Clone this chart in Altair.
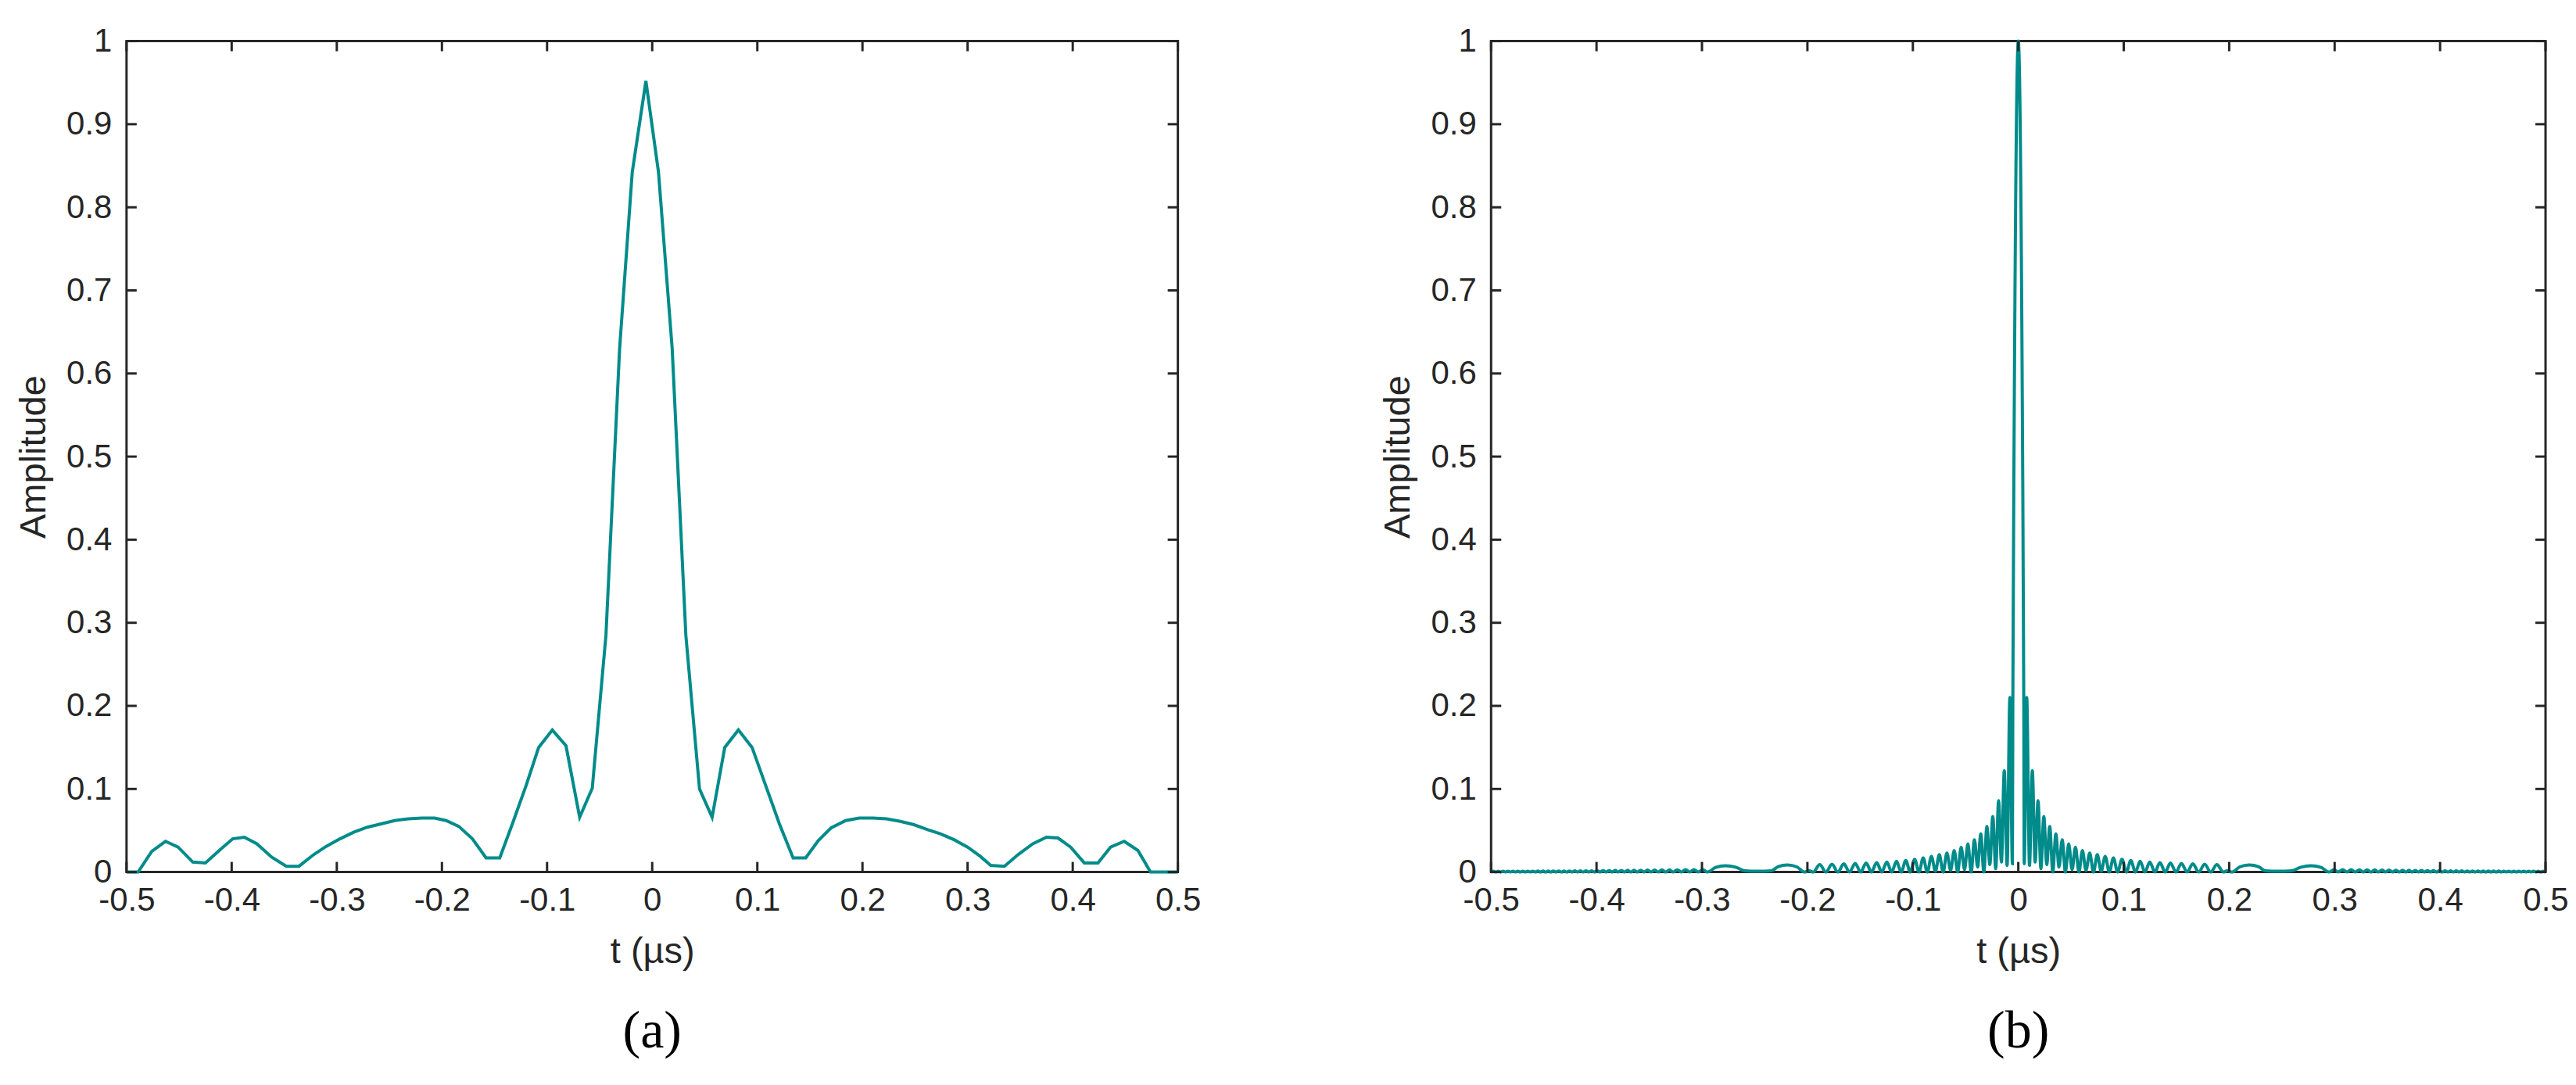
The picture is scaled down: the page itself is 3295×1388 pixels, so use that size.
import altair as alt
import pandas as pd

# ---------------- data ----------------
PANEL_LABELS = ["(a)", "(b)"]
X_TITLE = "t (µs)"
Y_TITLE = "Amplitude"
X_TICKS = [-0.5, -0.4, -0.3, -0.2, -0.1, 0.0, 0.1, 0.2, 0.3, 0.4, 0.5]
Y_TICKS = [0.0, 0.1, 0.2, 0.3, 0.4, 0.5, 0.6, 0.7, 0.8, 0.9, 1.0]

# panel (a)
A_T = [-0.500, -0.489, -0.476, -0.463, -0.451, -0.437, -0.425, -0.411, -0.399, -0.388,
       -0.376, -0.362, -0.348, -0.336, -0.322, -0.310, -0.297, -0.284, -0.271, -0.258,
       -0.245, -0.232, -0.219, -0.207, -0.196, -0.184, -0.171, -0.158, -0.145, -0.133,
       -0.120, -0.108, -0.095, -0.082, -0.069, -0.057, -0.044, -0.031, -0.019, -0.006,
       0.006, 0.019, 0.032, 0.045, 0.057, 0.069, 0.082, 0.095, 0.108, 0.121,
       0.134, 0.146, 0.158, 0.170, 0.184, 0.197, 0.210, 0.223, 0.236, 0.249,
       0.262, 0.274, 0.287, 0.300, 0.312, 0.322, 0.335, 0.348, 0.362, 0.375,
       0.386, 0.398, 0.411, 0.424, 0.436, 0.449, 0.462, 0.474, 0.500]
A_AMP = [0.000, 0.000, 0.025, 0.037, 0.030, 0.012, 0.011, 0.027, 0.040, 0.042,
         0.034, 0.018, 0.007, 0.007, 0.021, 0.031, 0.040, 0.048, 0.054, 0.058,
         0.062, 0.064, 0.065, 0.065, 0.062, 0.055, 0.040, 0.017, 0.017, 0.058,
         0.104, 0.150, 0.171, 0.152, 0.066, 0.101, 0.285, 0.630, 0.842, 0.952,
         0.842, 0.630, 0.285, 0.100, 0.066, 0.150, 0.171, 0.150, 0.104, 0.058,
         0.017, 0.017, 0.038, 0.053, 0.062, 0.065, 0.065, 0.064, 0.061, 0.057,
         0.051, 0.046, 0.039, 0.030, 0.019, 0.008, 0.007, 0.021, 0.034, 0.042,
         0.041, 0.030, 0.011, 0.011, 0.030, 0.037, 0.026, 0.000, 0.000]

# panel (b), right half (t >= 0)
B_T_RIGHT = [0.0000, 0.0040, 0.0052, 0.0056,
             0.0080, 0.0106, 0.0133, 0.0160, 0.0187, 0.0214, 0.0242, 0.0270, 0.0298, 0.0327,
             0.0356, 0.0386, 0.0416, 0.0447, 0.0478, 0.0510, 0.0542, 0.0575, 0.0608, 0.0642,
             0.0677, 0.0713, 0.0749, 0.0786, 0.0824, 0.0863, 0.0902, 0.0942, 0.0983, 0.1025,
             0.1067, 0.1111, 0.1155, 0.1201, 0.1247, 0.1295, 0.1343, 0.1393, 0.1443, 0.1495,
             0.1547, 0.1601, 0.1655, 0.1711, 0.1767, 0.1825, 0.1883, 0.1945, 0.1985, 0.2025,
             0.2100, 0.2190, 0.2280, 0.2345, 0.2470, 0.2590, 0.2680, 0.2775, 0.2870, 0.2950,
             0.2992, 0.3035, 0.3076, 0.3117, 0.3156, 0.3196, 0.3234, 0.3272, 0.3308, 0.3345,
             0.3380, 0.3415, 0.3449, 0.3483, 0.3516, 0.3549, 0.3581, 0.3613, 0.3644, 0.3675,
             0.3705, 0.3735, 0.3764, 0.3794, 0.3823, 0.3852, 0.3880, 0.3909, 0.3937, 0.3965,
             0.3992, 0.4020, 0.4047, 0.4074, 0.4100, 0.4127, 0.4153, 0.4180, 0.4206, 0.4232,
             0.4257, 0.4283, 0.4308, 0.4334, 0.4359, 0.4384, 0.4409, 0.4434, 0.4458, 0.4483,
             0.4507, 0.4532, 0.4556, 0.4580, 0.4604, 0.4628, 0.4652, 0.4676, 0.4699, 0.4723,
             0.4746, 0.4770, 0.4793, 0.4817, 0.4840, 0.4863, 0.4886, 0.4909, 0.4932, 0.4955,
             0.4977, 0.5000]
B_AMP_RIGHT = [1.000, 0.520, 0.200, 0.010,
               0.210, 0.008, 0.122, 0.012, 0.086, 0.004, 0.067, 0.009, 0.055, 0.000,
               0.046, 0.006, 0.039, 0.000, 0.034, 0.003, 0.030, 0.000, 0.026, 0.002,
               0.023, 0.000, 0.021, 0.001, 0.019, 0.000, 0.017, 0.000, 0.0155, 0.000,
               0.014, 0.000, 0.013, 0.000, 0.012, 0.000, 0.0115, 0.000, 0.011, 0.000,
               0.0105, 0.000, 0.010, 0.000, 0.0095, 0.000, 0.009, 0.000, 0.0018, 0.000,
               0.0062, 0.0085, 0.0063, 0.0015, 0.0010, 0.0015, 0.0058, 0.0076, 0.0056, 0.000,
               0.0030, 0.000, 0.0030, 0.000, 0.0029, 0.000, 0.0028, 0.000, 0.0027, 0.000,
               0.0026, 0.000, 0.0025, 0.000, 0.0024, 0.000, 0.0023, 0.000, 0.0022, 0.000,
               0.0021, 0.000, 0.0020, 0.000, 0.0019, 0.000, 0.0018, 0.000, 0.0017, 0.000,
               0.0016, 0.000, 0.0015, 0.000, 0.0015, 0.000, 0.0014, 0.000, 0.0014, 0.000,
               0.0013, 0.000, 0.0013, 0.000, 0.0013, 0.000, 0.0012, 0.000, 0.0012, 0.000,
               0.0012, 0.000, 0.0012, 0.000, 0.0011, 0.000, 0.0011, 0.000, 0.0011, 0.000,
               0.0011, 0.000, 0.0010, 0.000, 0.0010, 0.000, 0.0010, 0.000, 0.0010, 0.000,
               0.0010, 0.000]

# panel (b), left half (t < 0), read outward from the centre
B_T_LEFT = [-0.0040, -0.0052, -0.0056,
            -0.0080, -0.0106, -0.0133, -0.0160, -0.0187, -0.0214, -0.0242, -0.0270, -0.0298, -0.0327,
            -0.0356, -0.0386, -0.0416, -0.0447, -0.0478, -0.0510, -0.0542, -0.0575, -0.0608, -0.0642,
            -0.0677, -0.0713, -0.0749, -0.0786, -0.0824, -0.0863, -0.0902, -0.0942, -0.0983, -0.1025,
            -0.1067, -0.1111, -0.1155, -0.1201, -0.1247, -0.1295, -0.1343, -0.1393, -0.1443, -0.1495,
            -0.1547, -0.1601, -0.1655, -0.1711, -0.1767, -0.1825, -0.1883, -0.1945, -0.1985, -0.2025,
            -0.2100, -0.2190, -0.2280, -0.2345, -0.2470, -0.2590, -0.2680, -0.2775, -0.2870, -0.2950,
            -0.2992, -0.3035, -0.3076, -0.3117, -0.3156, -0.3196, -0.3234, -0.3272, -0.3308, -0.3345,
            -0.3380, -0.3415, -0.3449, -0.3483, -0.3516, -0.3549, -0.3581, -0.3613, -0.3644, -0.3675,
            -0.3705, -0.3735, -0.3764, -0.3794, -0.3823, -0.3852, -0.3880, -0.3909, -0.3937, -0.3965,
            -0.3992, -0.4020, -0.4047, -0.4074, -0.4100, -0.4127, -0.4153, -0.4180, -0.4206, -0.4232,
            -0.4257, -0.4283, -0.4308, -0.4334, -0.4359, -0.4384, -0.4409, -0.4434, -0.4458, -0.4483,
            -0.4507, -0.4532, -0.4556, -0.4580, -0.4604, -0.4628, -0.4652, -0.4676, -0.4699, -0.4723,
            -0.4746, -0.4770, -0.4793, -0.4817, -0.4840, -0.4863, -0.4886, -0.4909, -0.4932, -0.4955,
            -0.4977, -0.5000]
B_AMP_LEFT = [0.520, 0.200, 0.010,
              0.210, 0.008, 0.122, 0.012, 0.086, 0.004, 0.067, 0.009, 0.055, 0.000,
              0.046, 0.006, 0.039, 0.000, 0.034, 0.003, 0.030, 0.000, 0.026, 0.002,
              0.023, 0.000, 0.021, 0.001, 0.019, 0.000, 0.017, 0.000, 0.0155, 0.000,
              0.014, 0.000, 0.013, 0.000, 0.012, 0.000, 0.0115, 0.000, 0.011, 0.000,
              0.0105, 0.000, 0.010, 0.000, 0.0095, 0.000, 0.009, 0.000, 0.0018, 0.000,
              0.0062, 0.0085, 0.0063, 0.0015, 0.0010, 0.0015, 0.0058, 0.0076, 0.0056, 0.000,
              0.0030, 0.000, 0.0030, 0.000, 0.0029, 0.000, 0.0028, 0.000, 0.0027, 0.000,
              0.0026, 0.000, 0.0025, 0.000, 0.0024, 0.000, 0.0023, 0.000, 0.0022, 0.000,
              0.0021, 0.000, 0.0020, 0.000, 0.0019, 0.000, 0.0018, 0.000, 0.0017, 0.000,
              0.0016, 0.000, 0.0015, 0.000, 0.0015, 0.000, 0.0014, 0.000, 0.0014, 0.000,
              0.0013, 0.000, 0.0013, 0.000, 0.0013, 0.000, 0.0012, 0.000, 0.0012, 0.000,
              0.0012, 0.000, 0.0012, 0.000, 0.0011, 0.000, 0.0011, 0.000, 0.0011, 0.000,
              0.0011, 0.000, 0.0010, 0.000, 0.0010, 0.000, 0.0010, 0.000, 0.0010, 0.000,
              0.0010, 0.000]

# ---------------- styling ----------------
LINE_COLOR = "#008B8B"
AXIS_COLOR = "#262626"
SANS = "Liberation Sans"
SERIF = "Liberation Serif"
H = 1064
TICK_LEN = 13

df_a = pd.DataFrame({"t": A_T, "amp": A_AMP})
df_b = pd.DataFrame({"t": B_T_LEFT + B_T_RIGHT, "amp": B_AMP_LEFT + B_AMP_RIGHT}).sort_values("t")
xt = pd.DataFrame({"t": X_TICKS})
yt = pd.DataFrame({"amp": Y_TICKS})

LABEL_EXPR = "datum.value < 0 ? '-' + format(-datum.value, '~g') : format(datum.value, '~g')"

XS = alt.Scale(domain=[-0.5, 0.5], nice=False, zero=False)
YS = alt.Scale(domain=[0, 1], nice=False)
X_AXIS = alt.Axis(values=X_TICKS, labelExpr=LABEL_EXPR, title=X_TITLE, tickSize=0,
                  domain=False, grid=False, labelFont=SANS, titleFont=SANS,
                  labelFontSize=42, titleFontSize=47, titleFontWeight="normal",
                  labelColor=AXIS_COLOR, titleColor=AXIS_COLOR,
                  labelPadding=16, titlePadding=22, labelFlush=False)
Y_AXIS = alt.Axis(values=Y_TICKS, labelExpr=LABEL_EXPR, title=Y_TITLE, tickSize=0,
                  domain=False, grid=False, labelFont=SANS, titleFont=SANS,
                  labelFontSize=42, titleFontSize=47, titleFontWeight="normal",
                  labelColor=AXIS_COLOR, titleColor=AXIS_COLOR,
                  labelPadding=19, titlePadding=17, labelFlush=False)


def panel(df, width, label, interp):
    xenc = alt.X("t:Q", scale=XS, axis=X_AXIS)
    yenc = alt.Y("amp:Q", scale=YS, axis=Y_AXIS)
    line = alt.Chart(df).mark_line(color=LINE_COLOR, strokeWidth=4, interpolate=interp).encode(
        x=xenc, y=yenc, order=alt.Order("t:Q"),
    )
    rule = dict(color=AXIS_COLOR, strokeWidth=3)
    bottom = alt.Chart(xt).mark_rule(**rule).encode(
        x=xenc, y=alt.value(H), y2=alt.value(H - TICK_LEN))
    top = alt.Chart(xt).mark_rule(**rule).encode(
        x=xenc, y=alt.value(0), y2=alt.value(TICK_LEN))
    left = alt.Chart(yt).mark_rule(**rule).encode(
        y=yenc, x=alt.value(0), x2=alt.value(TICK_LEN))
    right = alt.Chart(yt).mark_rule(**rule).encode(
        y=yenc, x=alt.value(width), x2=alt.value(width - TICK_LEN))
    return alt.layer(line, bottom, top, left, right).properties(
        width=width, height=H,
        title=alt.TitleParams(text=label, orient="bottom", anchor="middle", font=SERIF,
                              fontSize=68, fontWeight="normal", color="black", offset=46),
    )


pa = panel(df_a, 1346, PANEL_LABELS[0], "linear")
pb = panel(df_b, 1350, PANEL_LABELS[1], "monotone")

chart = alt.hconcat(pa, pb, spacing=226).properties(
    padding={"left": 10, "top": 21, "right": 0, "bottom": 0},
    background="white",
).configure_view(stroke=AXIS_COLOR, strokeWidth=3)

chart.save("out.html", embed_options={"renderer": "svg", "actions": False})
